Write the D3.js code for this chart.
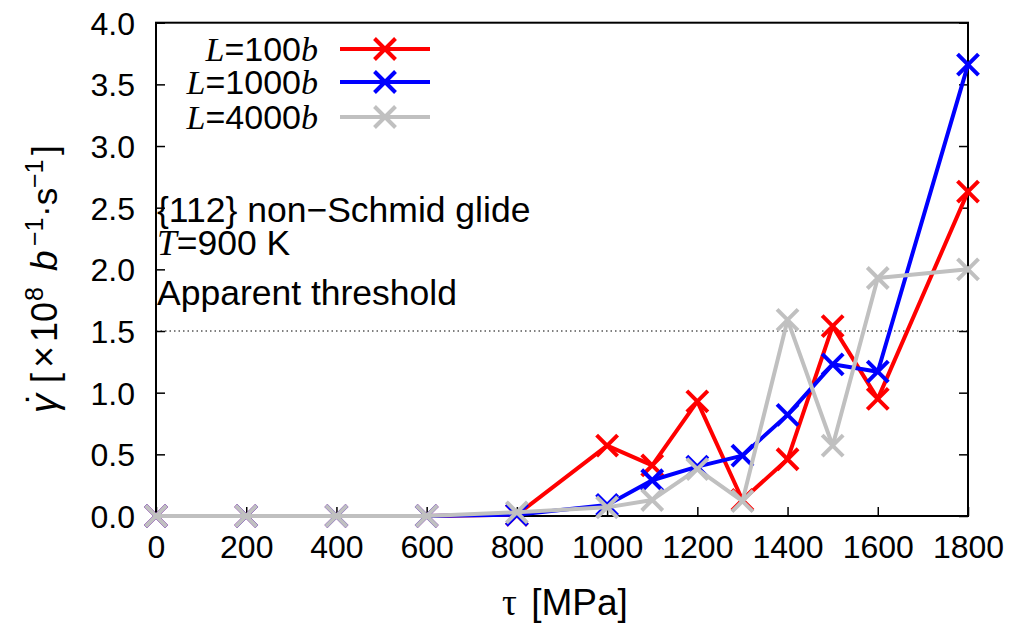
<!DOCTYPE html>
<html><head><meta charset="utf-8">
<script src="https://cdn.jsdelivr.net/npm/d3@7"></script>
<style>body{margin:0;background:#fff}svg{display:block}text{font-family:"Liberation Sans",Arial,sans-serif}</style>
</head><body><svg id="c" width="1011" height="625"></svg>
<script>
const tau = [0,200,400,600,800,1000,1100,1200,1300,1400,1500,1600,1800];
const rateL100  = [0,0,0,0,0.01,0.57,0.41,0.93,0.13,0.46,1.54,0.95,2.63];
const rateL1000 = [0,0,0,0,0.01,0.09,0.29,0.40,0.49,0.82,1.23,1.17,3.66];
const rateL4000 = [0,0,0,0,0.03,0.07,0.13,0.38,0.12,1.59,0.57,1.93,2.00];
const seriesNames = ["100","1000","4000"];
const seriesColors = ["#ff0000","#0000ff","#c0c0c0"];
const xTicks = [0,200,400,600,800,1000,1200,1400,1600,1800];
const yTicks = [0,0.5,1,1.5,2,2.5,3,3.5,4];
const threshold = 1.5;

const svg = d3.select("#c");
const x = d3.scaleLinear().domain([0,1800]).range([156,968]);
const y = d3.scaleLinear().domain([0,4]).range([516,22.7]);
const FS = 32;
const SERIF = "Liberation Serif, serif";

// threshold dotted line
svg.append("line").attr("x1",x(0)).attr("x2",x(1800)).attr("y1",y(threshold)).attr("y2",y(threshold))
  .attr("stroke","#000").attr("stroke-width",1).attr("stroke-dasharray","1.5,3");

// axes
const xAxis = d3.axisBottom(x).tickValues(xTicks).tickSize(-9).tickPadding(20).tickFormat(d3.format("d"));
const gx = svg.append("g").attr("transform",`translate(0,${y(0)})`).call(xAxis);
const yAxis = d3.axisLeft(y).tickValues(yTicks).tickSize(-9).tickPadding(20).tickFormat(d3.format(".1f"));
const gy = svg.append("g").attr("transform",`translate(${x(0)},0)`).call(yAxis);
const yAxisR = d3.axisRight(y).tickValues(yTicks).tickSize(-9).tickFormat("");
const gyr = svg.append("g").attr("transform",`translate(${x(1800)},0)`).call(yAxisR);
[gx,gy,gyr].forEach(g=>{g.select(".domain").remove();g.selectAll("line").attr("stroke","#000").attr("stroke-width",1.5);
  g.selectAll("text").attr("font-size",FS).attr("fill","#000").attr("font-family","Liberation Sans, Arial, sans-serif");});
gx.selectAll("text").attr("dy","0.71em").attr("y",19);
gy.selectAll("text").attr("dy","0.36em").attr("x",-21);
// frame
svg.append("rect").attr("x",x(0)).attr("y",y(4)).attr("width",x(1800)-x(0)).attr("height",y(0)-y(4))
  .attr("fill","none").attr("stroke","#000").attr("stroke-width",2);

// series
const data = [rateL100, rateL1000, rateL4000];
const line = d3.line().x((d,i)=>x(tau[i])).y(d=>y(d));
const M = 10.5;
const SW = 4;
function cross(g, cx, cy, color){
  g.append("path").attr("d",`M${cx-M},${cy-M}L${cx+M},${cy+M}M${cx-M},${cy+M}L${cx+M},${cy-M}`)
    .attr("stroke",color).attr("stroke-width",SW).attr("fill","none");
}
data.forEach((vals,k)=>{
  const g = svg.append("g");
  g.append("path").datum(vals).attr("d",line).attr("fill","none").attr("stroke",seriesColors[k]).attr("stroke-width",SW).attr("stroke-linejoin","round");
  vals.forEach((v,i)=>cross(g,x(tau[i]),y(v),seriesColors[k]));
});

// legend
const legY = [49,82,117];
seriesNames.forEach((n,k)=>{
  const t = svg.append("text").attr("x",318).attr("y",legY[k]).attr("dy","0.36em").attr("text-anchor","end").attr("font-size",34);
  t.append("tspan").attr("font-family",SERIF).attr("font-style","italic").text("L");
  t.append("tspan").text("="+n);
  t.append("tspan").attr("font-family",SERIF).attr("font-style","italic").text("b");
  svg.append("line").attr("x1",340).attr("x2",430).attr("y1",legY[k]).attr("y2",legY[k]).attr("stroke",seriesColors[k]).attr("stroke-width",SW);
  cross(svg,385,legY[k],seriesColors[k]);
});

// annotations
const AF = 35.5;
svg.append("text").attr("x",157).attr("y",222).attr("font-size",AF).text("{112} non\u2212Schmid glide");
const tT = svg.append("text").attr("x",157).attr("y",255).attr("font-size",AF);
tT.append("tspan").attr("font-family",SERIF).attr("font-style","italic").text("T");
tT.append("tspan").text("=900 K");
svg.append("text").attr("x",157).attr("y",305).attr("font-size",AF).text("Apparent threshold");

// x label
const xl = svg.append("text").attr("x",565).attr("y",615).attr("text-anchor","middle").attr("font-size",37);
xl.append("tspan").attr("font-family",SERIF).text("\u03c4");
xl.append("tspan").attr("dx",4).text(" [MPa]");

// y label (pieces placed along the rotated baseline)
const yl = svg.append("g").attr("transform","translate(57,413) rotate(-90)");
const ylPieces = [
  {t:"\u03b3", x:0,   sz:38, serif:true, it:true},
  {t:"\u02d9", x:9,   sz:38, serif:true, dy:-3},
  {t:"[",      x:30,  sz:36},
  {t:"\u00d7", x:45,  sz:38},
  {t:"10",     x:71,  sz:36},
  {t:"8",      x:112, sz:25, dy:-14},
  {t:"b",      x:142, sz:37, serif:true, it:true},
  {t:"\u22121",x:167, sz:25, dy:-14},
  {t:"\u00b7s",x:196, sz:35},
  {t:"\u22121",x:225, sz:25, dy:-14},
  {t:"]",      x:258, sz:35}
];
ylPieces.forEach(p=>{
  const t = yl.append("text").attr("x",p.x).attr("y",p.dy||0).attr("font-size",p.sz).text(p.t);
  if(p.serif) t.attr("font-family",SERIF);
  if(p.it) t.attr("font-style","italic");
});
</script></body></html>
